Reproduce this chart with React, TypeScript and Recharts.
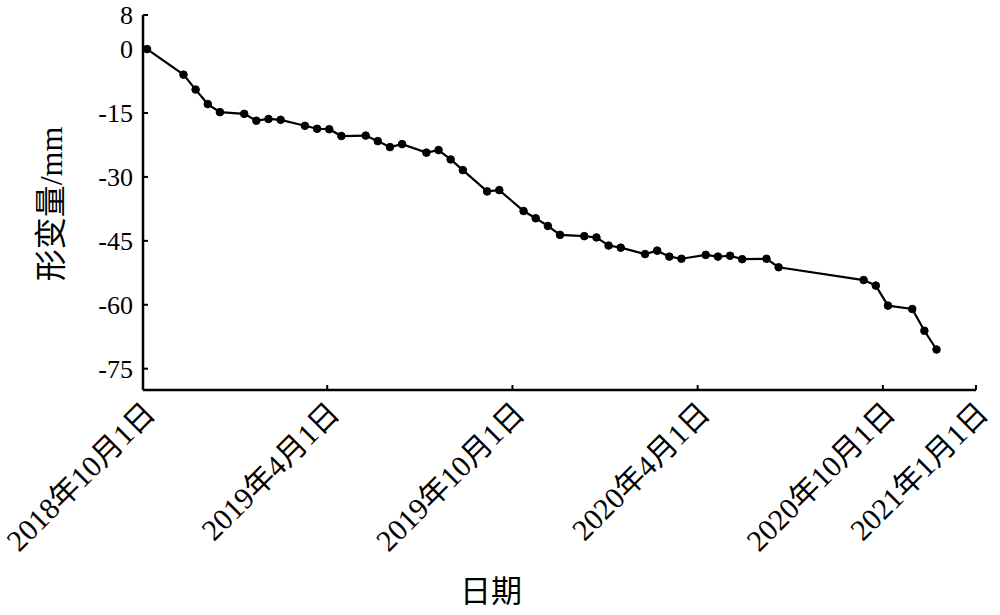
import { Label, Line, LineChart, XAxis, YAxis } from "recharts"

const dates = [
  "2018-10-05", "2018-11-10", "2018-11-22", "2018-12-04", "2018-12-16",
  "2019-01-09", "2019-01-21", "2019-02-02", "2019-02-14", "2019-03-10",
  "2019-03-22", "2019-04-03", "2019-04-15", "2019-05-09", "2019-05-21",
  "2019-06-02", "2019-06-14", "2019-07-08", "2019-07-20", "2019-08-01",
  "2019-08-13", "2019-09-06", "2019-09-18", "2019-10-12", "2019-10-24",
  "2019-11-05", "2019-11-17", "2019-12-11", "2019-12-23", "2020-01-04",
  "2020-01-16", "2020-02-09", "2020-02-21", "2020-03-04", "2020-03-16",
  "2020-04-09", "2020-04-21", "2020-05-03", "2020-05-15", "2020-06-08",
  "2020-06-20", "2020-09-12", "2020-09-24", "2020-10-06", "2020-10-30",
  "2020-11-11", "2020-11-23",
]

const deformation = [
  0, -6.0, -9.5, -12.9, -14.8,
  -15.2, -16.8, -16.4, -16.6, -18.0,
  -18.7, -18.8, -20.4, -20.3, -21.6,
  -23.0, -22.3, -24.3, -23.7, -25.9,
  -28.4, -33.4, -33.1, -38.0, -39.7,
  -41.5, -43.6, -43.9, -44.2, -46.1,
  -46.6, -48.1, -47.3, -48.7, -49.2,
  -48.3, -48.7, -48.5, -49.3, -49.2,
  -51.2, -54.2, -55.5, -60.2, -61.0,
  -66.1, -70.5,
]

const xTickDates = ["2018-10-01", "2019-04-01", "2019-10-01", "2020-04-01", "2020-10-01", "2021-01-01"]
const yTicks = [8, 0, -15, -30, -45, -60, -75]

const toTime = (s: string) => {
  const [y, m, d] = s.split("-").map(Number)
  return Date.UTC(y, m - 1, d)
}

const data = dates.map((d, i) => ({ t: toTime(d), v: deformation[i] }))
const xTicks = xTickDates.map(toTime)

const FONT = '"Liberation Serif", "Noto Sans CJK SC", serif'

const fmtDate = (t: number) => {
  const d = new Date(t)
  return `${d.getUTCFullYear()}年${d.getUTCMonth() + 1}月${d.getUTCDate()}日`
}

function XTick(props: any) {
  const { x, y, payload } = props
  return (
    <g>
      <line x1={x} y1={y} x2={x} y2={y - 5} stroke="#000" strokeWidth={2} />
      <text
        transform={`translate(${x + 14},${y + 25}) rotate(-45)`}
        textAnchor="end"
        fontFamily={FONT}
        fontSize={30}
        fill="#000"
      >
        {fmtDate(payload.value)}
      </text>
    </g>
  )
}

function YTick(props: any) {
  const { x, y, payload } = props
  return (
    <g>
      <line x1={x + 10} y1={y} x2={x + 15} y2={y} stroke="#000" strokeWidth={2} />
      <text x={x} y={y} dy="0.35em" textAnchor="end" fontFamily={FONT} fontSize={26} fill="#000">
        {payload.value}
      </text>
    </g>
  )
}

export default function App() {
  return (
    <div style={{ position: "absolute", left: 0, top: 0, background: "#fff" }}>
      <LineChart width={1000} height={615} data={data} margin={{ top: 15, right: 24, bottom: 0, left: 0 }}>
        <XAxis
          dataKey="t"
          type="number"
          scale="time"
          domain={[xTicks[0], xTicks[xTicks.length - 1]]}
          ticks={xTicks}
          height={225}
          tickSize={0}
          tickMargin={0}
          tickLine={false}
          axisLine={{ stroke: "#000", strokeWidth: 2.5 }}
          tick={<XTick />}
          interval={0}
        >
          <Label
            content={() => (
              <text x={491} y={602} textAnchor="middle" fontFamily={FONT} fontSize={31} fill="#000">
                日期
              </text>
            )}
          />
        </XAxis>
        <YAxis
          type="number"
          domain={[-80, 8]}
          ticks={yTicks}
          width={143}
          tickSize={0}
          tickMargin={10}
          tickLine={false}
          axisLine={{ stroke: "#000", strokeWidth: 2.5 }}
          tick={<YTick />}
          interval={0}
        >
          <Label
            content={() => (
              <text
                transform="translate(62,204) rotate(-90)"
                textAnchor="middle"
                fontFamily={FONT}
                fontSize={32}
                fill="#000"
              >
                形变量/mm
              </text>
            )}
          />
        </YAxis>
        <Line
          dataKey="v"
          stroke="#000"
          strokeWidth={2.2}
          dot={{ r: 3.8, fill: "#000", stroke: "#000", strokeWidth: 1 }}
          isAnimationActive={false}
        />
      </LineChart>
    </div>
  )
}
